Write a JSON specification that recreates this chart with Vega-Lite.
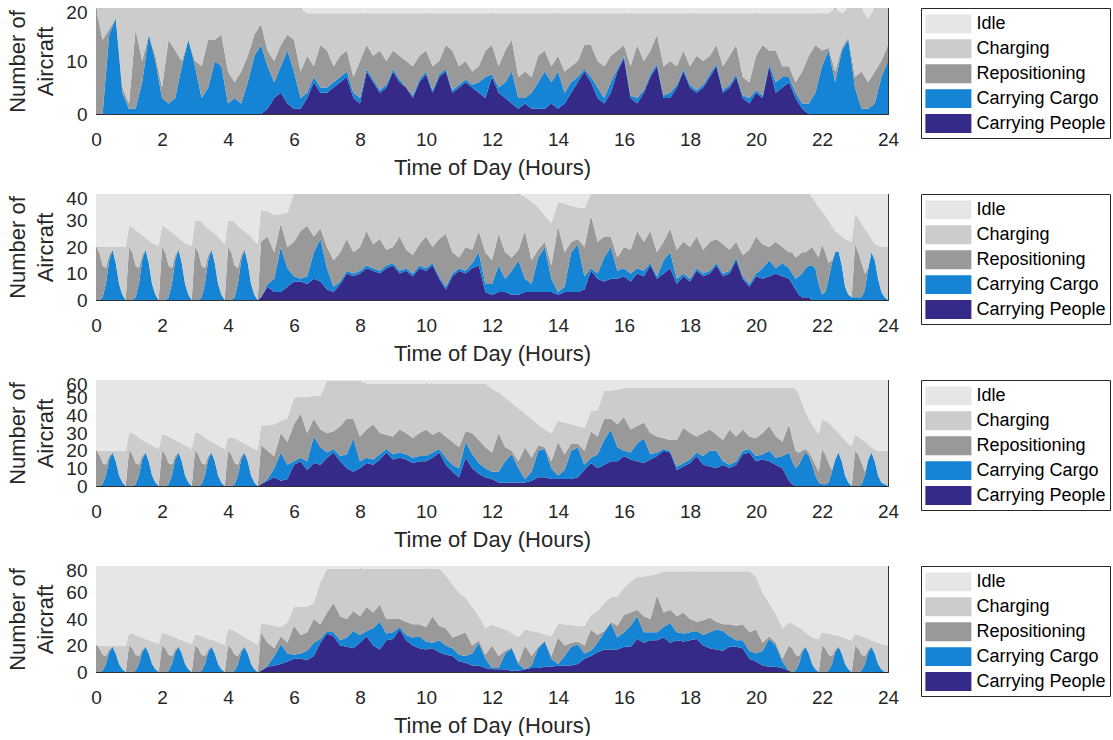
{
"$schema": "https://vega.github.io/schema/vega-lite/v6.json",
"autosize": {"type": "pad"},
"padding": {"left": 6, "top": 3, "right": 0, "bottom": 0},
"background": "white",
"config": {
 "font": "Liberation Sans",
 "view": {"stroke": null},
 "axis": {"labelFont": "Liberation Sans", "labelFontSize": 19, "labelColor": "#262626", "titleFont": "Liberation Sans", "titleFontSize": 22, "titleFontWeight": "normal", "titleColor": "#262626", "tickColor": "#262626", "tickWidth": 1, "domain": true, "domainColor": "#333333", "domainWidth": 1, "zindex": 1, "grid": false, "labelFlush": false, "labelOverlap": false},
 "legend": {"orient": "right", "offset": 31.5, "padding": 4.4, "strokeColor": "#262626", "symbolType": "M-2,-0.82H2V0.82H-2Z", "symbolSize": 529, "symbolOffset": 11.5, "symbolStrokeWidth": 0, "symbolOpacity": 1, "labelFont": "Liberation Sans", "labelFontSize": 18, "labelColor": "#000000", "labelOffset": 16.5, "rowPadding": 3.9, "labelLimit": 400}
},
"bounds": "flush",
"spacing": 80,
"resolve": {"scale": {"color": "independent", "x": "independent", "y": "independent"}},
"datasets": {
"p1": [
{"t":0,"a":0,"b":0,"c":20,"d":0,"e":0},{"t":0.2,"a":0,"b":0,"c":14,"d":6,"e":0},{"t":0.4,"a":0,"b":15,"c":1,"d":4,"e":0},{"t":0.6,"a":0,"b":18,"c":0,"d":2,"e":0},{"t":0.8,"a":0,"b":4,"c":1,"d":15,"e":0},
{"t":1,"a":0,"b":1,"c":1,"d":18,"e":0},{"t":1.2,"a":0,"b":1,"c":15,"d":4,"e":0},{"t":1.4,"a":0,"b":6,"c":4,"d":10,"e":0},{"t":1.6,"a":0,"b":15,"c":0,"d":5,"e":0},{"t":1.8,"a":0,"b":10,"c":1,"d":9,"e":0},
{"t":2,"a":0,"b":3,"c":2,"d":15,"e":0},{"t":2.2,"a":0,"b":2,"c":12,"d":6,"e":0},{"t":2.4,"a":0,"b":3,"c":9,"d":8,"e":0},{"t":2.6,"a":0,"b":9,"c":1,"d":10,"e":0},{"t":2.8,"a":0,"b":14,"c":0,"d":6,"e":0},
{"t":3,"a":0,"b":9,"c":1,"d":10,"e":0},{"t":3.2,"a":0,"b":3,"c":6,"d":11,"e":0},{"t":3.4,"a":0,"b":5,"c":9,"d":6,"e":0},{"t":3.6,"a":0,"b":10,"c":4,"d":6,"e":0},{"t":3.8,"a":0,"b":9,"c":6,"d":5,"e":0},
{"t":4,"a":0,"b":2,"c":6,"d":12,"e":0},{"t":4.2,"a":0,"b":3,"c":3,"d":14,"e":0},{"t":4.4,"a":0,"b":2,"c":6,"d":12,"e":0},{"t":4.6,"a":0,"b":6,"c":5,"d":9,"e":0},{"t":4.8,"a":0,"b":11,"c":4,"d":5,"e":0},
{"t":5,"a":0,"b":13,"c":4,"d":3,"e":0},{"t":5.2,"a":1,"b":8,"c":3,"d":8,"e":0},{"t":5.4,"a":3,"b":3,"c":4,"d":10,"e":0},{"t":5.6,"a":4,"b":5,"c":4,"d":7,"e":0},{"t":5.8,"a":2,"b":10,"c":3,"d":5,"e":0},
{"t":6,"a":1,"b":7,"c":6,"d":6,"e":0},{"t":6.2,"a":1,"b":2,"c":5,"d":12,"e":0},{"t":6.4,"a":3,"b":1,"c":7,"d":8,"e":1},{"t":6.6,"a":6,"b":1,"c":2,"d":10,"e":1},{"t":6.8,"a":4,"b":1,"c":8,"d":6,"e":1},
{"t":7,"a":4,"b":1,"c":7,"d":7,"e":1},{"t":7.2,"a":5,"b":1,"c":3,"d":10,"e":1},{"t":7.4,"a":6,"b":1,"c":4,"d":8,"e":1},{"t":7.6,"a":7,"b":1,"c":4,"d":7,"e":1},{"t":7.8,"a":3,"b":1,"c":3,"d":12,"e":1},
{"t":8,"a":2,"b":1,"c":7,"d":9,"e":1},{"t":8.2,"a":8,"b":0.5,"c":4.5,"d":6,"e":1},{"t":8.4,"a":6,"b":0.5,"c":4.5,"d":8,"e":1},{"t":8.6,"a":4,"b":0.5,"c":7.5,"d":7,"e":1},{"t":8.8,"a":5,"b":0.5,"c":4.5,"d":9,"e":1},
{"t":9,"a":8,"b":0.5,"c":3.5,"d":7,"e":1},{"t":9.2,"a":6,"b":0.5,"c":4.5,"d":8,"e":1},{"t":9.4,"a":5,"b":0,"c":5,"d":9,"e":1},{"t":9.6,"a":3,"b":0.5,"c":5.5,"d":10,"e":1},{"t":9.8,"a":6,"b":0.5,"c":4.5,"d":8,"e":1},
{"t":10,"a":7.5,"b":0.5,"c":4,"d":7,"e":1},{"t":10.2,"a":4,"b":0.5,"c":4.5,"d":10,"e":1},{"t":10.4,"a":7,"b":0.5,"c":2.5,"d":9,"e":1},{"t":10.6,"a":8,"b":0.5,"c":4.5,"d":6,"e":1},{"t":10.8,"a":4,"b":0.5,"c":7.5,"d":7,"e":1},
{"t":11,"a":5,"b":0.5,"c":3.5,"d":10,"e":1},{"t":11.2,"a":6,"b":0.5,"c":3.5,"d":9,"e":1},{"t":11.4,"a":5,"b":0.5,"c":2.5,"d":11,"e":1},{"t":11.6,"a":4,"b":2,"c":3,"d":10,"e":1},{"t":11.8,"a":3,"b":4,"c":5,"d":7,"e":1},
{"t":12,"a":7,"b":0.5,"c":5.5,"d":6,"e":1},{"t":12.2,"a":4,"b":1,"c":4,"d":10,"e":1},{"t":12.4,"a":3,"b":3,"c":6,"d":7,"e":1},{"t":12.6,"a":2,"b":6,"c":6,"d":5,"e":1},{"t":12.8,"a":1,"b":2,"c":4,"d":12,"e":1},
{"t":13,"a":2,"b":1,"c":5,"d":11,"e":1},{"t":13.2,"a":1,"b":3,"c":3,"d":12,"e":1},{"t":13.4,"a":1,"b":5,"c":5,"d":8,"e":1},{"t":13.6,"a":1,"b":7,"c":4,"d":7,"e":1},{"t":13.8,"a":2,"b":4,"c":3,"d":10,"e":1},
{"t":14,"a":1,"b":7,"c":3,"d":8,"e":1},{"t":14.2,"a":2,"b":2,"c":4,"d":11,"e":1},{"t":14.4,"a":4,"b":2,"c":3,"d":10,"e":1},{"t":14.6,"a":6,"b":1,"c":3,"d":9,"e":1},{"t":14.8,"a":8,"b":0.5,"c":4.5,"d":6,"e":1},
{"t":15,"a":6,"b":1,"c":6,"d":6,"e":1},{"t":15.2,"a":3,"b":2,"c":5,"d":9,"e":1},{"t":15.4,"a":2,"b":1,"c":6,"d":10,"e":1},{"t":15.6,"a":4,"b":2,"c":5,"d":8,"e":1},{"t":15.8,"a":8,"b":0.5,"c":3.5,"d":7,"e":1},
{"t":16,"a":10.5,"b":0.5,"c":2,"d":6,"e":1},{"t":16.2,"a":3,"b":0.5,"c":5.5,"d":10,"e":1},{"t":16.4,"a":2,"b":1,"c":10,"d":6,"e":1},{"t":16.6,"a":4,"b":0.5,"c":5.5,"d":9,"e":1},{"t":16.8,"a":7,"b":0.5,"c":4.5,"d":7,"e":1},
{"t":17,"a":9,"b":0.5,"c":5.5,"d":4,"e":1},{"t":17.2,"a":3,"b":0.5,"c":5.5,"d":10,"e":1},{"t":17.4,"a":3,"b":1,"c":6,"d":9,"e":1},{"t":17.6,"a":5,"b":0.5,"c":3.5,"d":10,"e":1},{"t":17.8,"a":8,"b":0.5,"c":3.5,"d":7,"e":1},
{"t":18,"a":5,"b":0.5,"c":3.5,"d":10,"e":1},{"t":18.2,"a":4,"b":0.5,"c":6.5,"d":8,"e":1},{"t":18.4,"a":5,"b":0.5,"c":4.5,"d":9,"e":1},{"t":18.6,"a":7,"b":0.5,"c":3.5,"d":8,"e":1},{"t":18.8,"a":9,"b":0.5,"c":3.5,"d":6,"e":1},
{"t":19,"a":4,"b":0.5,"c":4.5,"d":10,"e":1},{"t":19.2,"a":5,"b":0.5,"c":5.5,"d":8,"e":1},{"t":19.4,"a":7,"b":0.5,"c":5.5,"d":6,"e":1},{"t":19.6,"a":3,"b":0.5,"c":3.5,"d":12,"e":1},{"t":19.8,"a":2,"b":1,"c":3,"d":13,"e":1},
{"t":20,"a":4,"b":0.5,"c":6.5,"d":8,"e":1},{"t":20.2,"a":3,"b":0.5,"c":9.5,"d":6,"e":1},{"t":20.4,"a":9,"b":0.5,"c":2.5,"d":7,"e":1},{"t":20.6,"a":4,"b":2,"c":6,"d":7,"e":1},{"t":20.8,"a":5,"b":2,"c":2,"d":10,"e":1},
{"t":21,"a":6,"b":1,"c":2,"d":10,"e":1},{"t":21.2,"a":3,"b":1,"c":2,"d":13,"e":1},{"t":21.4,"a":1,"b":1,"c":6,"d":11,"e":1},{"t":21.6,"a":0,"b":2,"c":9,"d":8,"e":1},{"t":21.8,"a":0,"b":4,"c":9,"d":6,"e":1},
{"t":22,"a":0,"b":9,"c":3,"d":7,"e":1},{"t":22.2,"a":0,"b":12,"c":0.5,"d":6.5,"e":1},{"t":22.4,"a":0,"b":6,"c":2,"d":12,"e":0},{"t":22.6,"a":0,"b":12,"c":0.5,"d":6.5,"e":1},{"t":22.8,"a":0,"b":14,"c":0.5,"d":5.5,"e":0},
{"t":23,"a":0,"b":5,"c":2,"d":13,"e":0},{"t":23.2,"a":0,"b":1,"c":7,"d":12,"e":0},{"t":23.4,"a":0,"b":1,"c":5,"d":12,"e":2},{"t":23.6,"a":0,"b":2,"c":6,"d":12,"e":0},{"t":23.8,"a":0,"b":7,"c":3,"d":10,"e":0},
{"t":24,"a":0,"b":10,"c":3,"d":7,"e":0}
],
"p2": [
{"t":0,"a":0,"b":0,"c":20,"d":0,"e":20},{"t":0.1,"a":0,"b":0,"c":18,"d":2,"e":20},{"t":0.2,"a":0,"b":1,"c":12,"d":7,"e":20},{"t":0.3,"a":0,"b":6,"c":6,"d":8,"e":20},{"t":0.4,"a":0,"b":15,"c":2,"d":3,"e":20},
{"t":0.5,"a":0,"b":19,"c":0,"d":1,"e":20},{"t":0.6,"a":0,"b":14,"c":0,"d":6,"e":20},{"t":0.7,"a":0,"b":6,"c":0,"d":14,"e":20},{"t":0.8,"a":0,"b":2,"c":0,"d":18,"e":20},{"t":0.9,"a":0,"b":0,"c":0,"d":20,"e":20},
{"t":1,"a":0,"b":0,"c":20,"d":8,"e":12},{"t":1.1,"a":0,"b":0,"c":18,"d":9.5,"e":12.5},{"t":1.2,"a":0,"b":1,"c":12,"d":13.5,"e":13.5},{"t":1.3,"a":0,"b":6,"c":6,"d":13.5,"e":14.5},{"t":1.4,"a":0,"b":15,"c":2,"d":7.5,"e":15.5},
{"t":1.5,"a":0,"b":19,"c":0,"d":4.5,"e":16.5},{"t":1.6,"a":0,"b":14,"c":0,"d":8.5,"e":17.5},{"t":1.7,"a":0,"b":6,"c":0,"d":15.5,"e":18.5},{"t":1.8,"a":0,"b":2,"c":0,"d":19,"e":19},{"t":1.9,"a":0,"b":0,"c":0,"d":20.5,"e":19.5},
{"t":2,"a":0,"b":0,"c":20,"d":8,"e":12},{"t":2.1,"a":0,"b":0,"c":18,"d":9.5,"e":12.5},{"t":2.2,"a":0,"b":1,"c":12,"d":13.5,"e":13.5},{"t":2.3,"a":0,"b":6,"c":6,"d":13.5,"e":14.5},{"t":2.4,"a":0,"b":15,"c":2,"d":7.5,"e":15.5},
{"t":2.5,"a":0,"b":19,"c":0,"d":4.5,"e":16.5},{"t":2.6,"a":0,"b":14,"c":0,"d":8.5,"e":17.5},{"t":2.7,"a":0,"b":6,"c":0,"d":15.5,"e":18.5},{"t":2.8,"a":0,"b":2,"c":0,"d":19,"e":19},{"t":2.9,"a":0,"b":0,"c":0,"d":20.5,"e":19.5},
{"t":3,"a":0,"b":0,"c":20,"d":10,"e":10},{"t":3.1,"a":0,"b":0,"c":18,"d":12,"e":10},{"t":3.2,"a":0,"b":1,"c":12,"d":16.5,"e":10.5},{"t":3.3,"a":0,"b":6,"c":6,"d":16,"e":12},{"t":3.4,"a":0,"b":15,"c":2,"d":10,"e":13},
{"t":3.5,"a":0,"b":19,"c":0,"d":7,"e":14},{"t":3.6,"a":0,"b":14,"c":0,"d":11,"e":15},{"t":3.7,"a":0,"b":6,"c":0,"d":18,"e":16},{"t":3.8,"a":0,"b":2,"c":0,"d":20.5,"e":17.5},{"t":3.9,"a":0,"b":0,"c":0,"d":21,"e":19},
{"t":4,"a":0,"b":0,"c":20,"d":10,"e":10},{"t":4.1,"a":0,"b":0,"c":18,"d":12,"e":10},{"t":4.2,"a":0,"b":1,"c":12,"d":16.5,"e":10.5},{"t":4.3,"a":0,"b":6,"c":6,"d":16,"e":12},{"t":4.4,"a":0,"b":15,"c":2,"d":10,"e":13},
{"t":4.5,"a":0,"b":19,"c":0,"d":7,"e":14},{"t":4.6,"a":0,"b":14,"c":0,"d":11,"e":15},{"t":4.7,"a":0,"b":6,"c":0,"d":18,"e":16},{"t":4.8,"a":0,"b":2,"c":0,"d":20.5,"e":17.5},{"t":4.9,"a":0,"b":0,"c":0,"d":21,"e":19},
{"t":5,"a":1,"b":0,"c":21,"d":12,"e":6},{"t":5.2,"a":5,"b":1,"c":18,"d":9.5,"e":6.5},{"t":5.4,"a":3,"b":5,"c":10,"d":14,"e":8},{"t":5.6,"a":3,"b":17,"c":9,"d":3.5,"e":7.5},{"t":5.8,"a":5,"b":7,"c":8,"d":13,"e":7},
{"t":6,"a":7,"b":2,"c":13,"d":18,"e":0},{"t":6.2,"a":7,"b":1,"c":18,"d":14,"e":0},{"t":6.4,"a":6,"b":3,"c":19,"d":12,"e":0},{"t":6.6,"a":8,"b":10,"c":6,"d":16,"e":0},{"t":6.8,"a":7,"b":16,"c":4,"d":13,"e":0},
{"t":7,"a":4,"b":8,"c":8,"d":20,"e":0},{"t":7.2,"a":3,"b":2,"c":10,"d":25,"e":0},{"t":7.4,"a":6,"b":1,"c":11,"d":22,"e":0},{"t":7.6,"a":10,"b":1,"c":12,"d":17,"e":0},{"t":7.8,"a":9,"b":1,"c":8,"d":22,"e":0},
{"t":8,"a":10,"b":1,"c":9,"d":20,"e":0},{"t":8.2,"a":12,"b":1,"c":13,"d":14,"e":0},{"t":8.4,"a":11,"b":1,"c":9,"d":19,"e":0},{"t":8.6,"a":10,"b":1,"c":12,"d":17,"e":0},{"t":8.8,"a":12,"b":1,"c":6,"d":21,"e":0},
{"t":9,"a":13,"b":1,"c":6,"d":20,"e":0},{"t":9.2,"a":10,"b":1,"c":13,"d":16,"e":0},{"t":9.4,"a":11,"b":1,"c":7,"d":21,"e":0},{"t":9.6,"a":9,"b":1,"c":7,"d":23,"e":0},{"t":9.8,"a":12,"b":1,"c":8,"d":19,"e":0},
{"t":10,"a":11,"b":1,"c":12,"d":16,"e":0},{"t":10.2,"a":13,"b":1,"c":6,"d":20,"e":0},{"t":10.4,"a":8,"b":1,"c":14,"d":17,"e":0},{"t":10.6,"a":4,"b":1,"c":20,"d":15,"e":0},{"t":10.8,"a":9,"b":1,"c":8,"d":22,"e":0},
{"t":11,"a":11,"b":1,"c":4,"d":24,"e":0},{"t":11.2,"a":10,"b":1,"c":9,"d":20,"e":0},{"t":11.4,"a":12,"b":2,"c":5,"d":21,"e":0},{"t":11.6,"a":13,"b":5,"c":8,"d":14,"e":0},{"t":11.8,"a":3,"b":3,"c":12,"d":22,"e":0},
{"t":12,"a":2,"b":4,"c":9,"d":25,"e":0},{"t":12.2,"a":3,"b":10,"c":12,"d":15,"e":0},{"t":12.4,"a":3,"b":5,"c":10,"d":22,"e":0},{"t":12.6,"a":2,"b":9,"c":5,"d":24,"e":0},{"t":12.8,"a":2,"b":13,"c":4,"d":21,"e":0},
{"t":13,"a":3,"b":5,"c":18,"d":13,"e":1},{"t":13.2,"a":3,"b":3,"c":9,"d":22,"e":3},{"t":13.4,"a":3,"b":13,"c":3,"d":16,"e":5},{"t":13.6,"a":3,"b":17,"c":2,"d":10,"e":8},{"t":13.8,"a":3,"b":5,"c":5,"d":16,"e":11},
{"t":14,"a":2,"b":1,"c":25,"d":9,"e":3},{"t":14.2,"a":3,"b":2,"c":13,"d":18.5,"e":3.5},{"t":14.4,"a":3,"b":15,"c":4,"d":13.5,"e":4.5},{"t":14.6,"a":3,"b":18,"c":2,"d":12,"e":5},{"t":14.8,"a":4,"b":5,"c":11,"d":14.5,"e":5.5},
{"t":15,"a":11,"b":1,"c":20,"d":8,"e":0},{"t":15.2,"a":8,"b":2,"c":12,"d":18,"e":0},{"t":15.4,"a":7,"b":9,"c":8,"d":16,"e":0},{"t":15.6,"a":8,"b":12,"c":4,"d":16,"e":0},{"t":15.8,"a":8,"b":3,"c":5,"d":24,"e":0},
{"t":16,"a":9,"b":3,"c":8,"d":20,"e":0},{"t":16.2,"a":7,"b":3,"c":9,"d":21,"e":0},{"t":16.4,"a":10,"b":2,"c":14,"d":14,"e":0},{"t":16.6,"a":9,"b":2,"c":11,"d":18,"e":0},{"t":16.8,"a":13,"b":1,"c":12,"d":14,"e":0},
{"t":17,"a":8,"b":1,"c":9,"d":22,"e":0},{"t":17.2,"a":10,"b":5,"c":7,"d":18,"e":0},{"t":17.4,"a":12,"b":6,"c":9,"d":13,"e":0},{"t":17.6,"a":6,"b":2,"c":11,"d":21,"e":0},{"t":17.8,"a":9,"b":1,"c":12,"d":18,"e":0},
{"t":18,"a":7,"b":1,"c":12,"d":20,"e":0},{"t":18.2,"a":11,"b":1,"c":12,"d":16,"e":0},{"t":18.4,"a":9,"b":1,"c":9,"d":21,"e":0},{"t":18.6,"a":10,"b":1,"c":11,"d":18,"e":0},{"t":18.8,"a":13,"b":1,"c":9,"d":17,"e":0},
{"t":19,"a":9,"b":1,"c":11,"d":19,"e":0},{"t":19.2,"a":10,"b":1,"c":8,"d":21,"e":0},{"t":19.4,"a":15,"b":1,"c":6,"d":18,"e":0},{"t":19.6,"a":8,"b":1,"c":8,"d":23,"e":0},{"t":19.8,"a":5,"b":1,"c":13,"d":21,"e":0},
{"t":20,"a":9,"b":1,"c":14,"d":16,"e":0},{"t":20.2,"a":8,"b":4,"c":9,"d":19,"e":0},{"t":20.4,"a":9,"b":6,"c":5,"d":20,"e":0},{"t":20.6,"a":10,"b":2,"c":10,"d":18,"e":0},{"t":20.8,"a":9,"b":5,"c":6,"d":20,"e":0},
{"t":21,"a":8,"b":4,"c":6,"d":22,"e":0},{"t":21.1,"a":6,"b":4,"c":8,"d":22,"e":0},{"t":21.2,"a":4,"b":4,"c":8,"d":24,"e":0},{"t":21.3,"a":2,"b":7,"c":8,"d":23,"e":0},{"t":21.4,"a":1,"b":9,"c":8,"d":22,"e":0},
{"t":21.5,"a":1,"b":11,"c":6,"d":22,"e":0},{"t":21.6,"a":1,"b":12,"c":6,"d":21,"e":0},{"t":21.7,"a":0,"b":13,"c":7,"d":19,"e":1},{"t":21.8,"a":0,"b":12,"c":6,"d":19,"e":3},{"t":21.9,"a":0,"b":6,"c":10,"d":19,"e":5},
{"t":22,"a":0,"b":2,"c":19,"d":12.5,"e":6.5},{"t":22.1,"a":0,"b":3,"c":15,"d":14,"e":8},{"t":22.2,"a":0,"b":8,"c":6,"d":16,"e":10},{"t":22.3,"a":0,"b":14,"c":1,"d":13,"e":12},{"t":22.4,"a":0,"b":18,"c":0,"d":8,"e":14},
{"t":22.5,"a":0,"b":18.5,"c":0,"d":6.5,"e":15},{"t":22.6,"a":0,"b":13,"c":0,"d":11,"e":16},{"t":22.7,"a":0,"b":5,"c":0,"d":18,"e":17},{"t":22.8,"a":0,"b":2,"c":0,"d":20.5,"e":17.5},{"t":22.9,"a":0,"b":1,"c":0,"d":21,"e":18},
{"t":23,"a":0,"b":1,"c":20,"d":11.5,"e":7.5},{"t":23.1,"a":0,"b":1,"c":17,"d":13,"e":9},{"t":23.2,"a":0,"b":1,"c":13,"d":15,"e":11},{"t":23.3,"a":0,"b":4,"c":6,"d":17,"e":13},{"t":23.4,"a":0,"b":12,"c":0,"d":13,"e":15},
{"t":23.5,"a":0,"b":18,"c":0,"d":5,"e":17},{"t":23.6,"a":0,"b":15,"c":0,"d":6,"e":19},{"t":23.7,"a":0,"b":8,"c":0,"d":12.5,"e":19.5},{"t":23.8,"a":0,"b":3,"c":0,"d":17,"e":20},{"t":23.9,"a":0,"b":1,"c":0,"d":19,"e":20},
{"t":24,"a":0,"b":0,"c":0,"d":20,"e":20}
],
"p3": [
{"t":0,"a":0,"b":0,"c":20,"d":0,"e":40},{"t":0.1,"a":0,"b":0,"c":18,"d":2,"e":40},{"t":0.2,"a":0,"b":1,"c":12,"d":7,"e":40},{"t":0.3,"a":0,"b":6,"c":6,"d":8,"e":40},{"t":0.4,"a":0,"b":15,"c":2,"d":3,"e":40},
{"t":0.5,"a":0,"b":19,"c":0,"d":1,"e":40},{"t":0.6,"a":0,"b":14,"c":0,"d":6,"e":40},{"t":0.7,"a":0,"b":6,"c":0,"d":14,"e":40},{"t":0.8,"a":0,"b":2,"c":0,"d":18,"e":40},{"t":0.9,"a":0,"b":0,"c":0,"d":20,"e":40},
{"t":1,"a":0,"b":0,"c":20,"d":10,"e":30},{"t":1.1,"a":0,"b":0,"c":18,"d":12,"e":30},{"t":1.2,"a":0,"b":1,"c":12,"d":16,"e":31},{"t":1.3,"a":0,"b":6,"c":6,"d":15.5,"e":32.5},{"t":1.4,"a":0,"b":15,"c":2,"d":9,"e":34},
{"t":1.5,"a":0,"b":19,"c":0,"d":6,"e":35},{"t":1.6,"a":0,"b":14,"c":0,"d":10,"e":36},{"t":1.7,"a":0,"b":6,"c":0,"d":17,"e":37},{"t":1.8,"a":0,"b":2,"c":0,"d":20,"e":38},{"t":1.9,"a":0,"b":0,"c":0,"d":21,"e":39},
{"t":2,"a":0,"b":0,"c":20,"d":9,"e":31},{"t":2.1,"a":0,"b":0,"c":18,"d":11,"e":31},{"t":2.2,"a":0,"b":1,"c":12,"d":15,"e":32},{"t":2.3,"a":0,"b":6,"c":6,"d":15,"e":33},{"t":2.4,"a":0,"b":15,"c":2,"d":9,"e":34},
{"t":2.5,"a":0,"b":19,"c":0,"d":6,"e":35},{"t":2.6,"a":0,"b":14,"c":0,"d":10,"e":36},{"t":2.7,"a":0,"b":6,"c":0,"d":17,"e":37},{"t":2.8,"a":0,"b":2,"c":0,"d":20,"e":38},{"t":2.9,"a":0,"b":0,"c":0,"d":21,"e":39},
{"t":3,"a":0,"b":0,"c":20,"d":10,"e":30},{"t":3.1,"a":0,"b":0,"c":18,"d":12,"e":30},{"t":3.2,"a":0,"b":1,"c":12,"d":16,"e":31},{"t":3.3,"a":0,"b":6,"c":6,"d":15.5,"e":32.5},{"t":3.4,"a":0,"b":15,"c":2,"d":9,"e":34},
{"t":3.5,"a":0,"b":19,"c":0,"d":6,"e":35},{"t":3.6,"a":0,"b":14,"c":0,"d":10,"e":36},{"t":3.7,"a":0,"b":6,"c":0,"d":17,"e":37},{"t":3.8,"a":0,"b":2,"c":0,"d":20,"e":38},{"t":3.9,"a":0,"b":0,"c":0,"d":21,"e":39},
{"t":4,"a":0,"b":0,"c":20,"d":7.5,"e":32.5},{"t":4.1,"a":0,"b":0,"c":18,"d":9.5,"e":32.5},{"t":4.2,"a":0,"b":1,"c":12,"d":14,"e":33},{"t":4.3,"a":0,"b":6,"c":6,"d":14,"e":34},{"t":4.4,"a":0,"b":15,"c":2,"d":8,"e":35},
{"t":4.5,"a":0,"b":19,"c":0,"d":5,"e":36},{"t":4.6,"a":0,"b":14,"c":0,"d":9,"e":37},{"t":4.7,"a":0,"b":6,"c":0,"d":16,"e":38},{"t":4.8,"a":0,"b":2,"c":0,"d":19,"e":39},{"t":4.9,"a":0,"b":0,"c":0,"d":20.5,"e":39.5},
{"t":5,"a":1,"b":0,"c":22,"d":11,"e":26},{"t":5.2,"a":3,"b":1,"c":16,"d":14.5,"e":25.5},{"t":5.4,"a":5,"b":5,"c":7,"d":18,"e":25},{"t":5.6,"a":3,"b":16,"c":11,"d":7,"e":23},{"t":5.8,"a":4,"b":8,"c":13,"d":13.5,"e":21.5},
{"t":6,"a":12,"b":2,"c":21,"d":15,"e":10},{"t":6.2,"a":14,"b":2,"c":25,"d":9.5,"e":9.5},{"t":6.4,"a":9,"b":5,"c":16,"d":20.5,"e":9.5},{"t":6.6,"a":13,"b":15,"c":10,"d":13,"e":9},{"t":6.8,"a":12,"b":10,"c":10,"d":19,"e":9},
{"t":7,"a":16,"b":3,"c":11,"d":29.5,"e":0.5},{"t":7.2,"a":19,"b":2,"c":10,"d":28.5,"e":0.5},{"t":7.4,"a":14,"b":3,"c":17,"d":25.5,"e":0.5},{"t":7.6,"a":10,"b":8,"c":20,"d":21.5,"e":0.5},{"t":7.8,"a":8,"b":19,"c":11,"d":21.5,"e":0.5},
{"t":8,"a":10,"b":4,"c":14,"d":31.5,"e":0.5},{"t":8.2,"a":13,"b":3,"c":16,"d":26,"e":2},{"t":8.4,"a":12,"b":3,"c":20,"d":23,"e":2},{"t":8.6,"a":15,"b":3,"c":12,"d":28,"e":2},{"t":8.8,"a":19,"b":2,"c":8,"d":29,"e":2},
{"t":9,"a":15,"b":3,"c":10,"d":30,"e":2},{"t":9.2,"a":16,"b":3,"c":13,"d":26,"e":2},{"t":9.4,"a":15,"b":3,"c":12,"d":28,"e":2},{"t":9.6,"a":13,"b":3,"c":11,"d":31,"e":2},{"t":9.8,"a":14,"b":3,"c":13,"d":28,"e":2},
{"t":10,"a":14,"b":3,"c":15,"d":26,"e":2},{"t":10.2,"a":16,"b":3,"c":10,"d":29,"e":2},{"t":10.4,"a":19,"b":2,"c":10,"d":27,"e":2},{"t":10.6,"a":12,"b":4,"c":12,"d":30,"e":2},{"t":10.8,"a":8,"b":4,"c":13,"d":33,"e":2},
{"t":11,"a":5,"b":5,"c":12,"d":36,"e":2},{"t":11.2,"a":16,"b":9,"c":6,"d":27,"e":2},{"t":11.4,"a":10,"b":8,"c":12,"d":28,"e":2},{"t":11.6,"a":7,"b":6,"c":13,"d":32,"e":2},{"t":11.8,"a":5,"b":5,"c":12,"d":36,"e":2},
{"t":12,"a":4,"b":4,"c":11,"d":36,"e":5},{"t":12.2,"a":2,"b":6,"c":22,"d":23,"e":7},{"t":12.4,"a":2,"b":12,"c":8,"d":28,"e":10},{"t":12.6,"a":2,"b":16,"c":2,"d":27,"e":13},{"t":12.8,"a":2,"b":8,"c":4,"d":30,"e":16},
{"t":13,"a":2,"b":2,"c":18,"d":19,"e":19},{"t":13.2,"a":3,"b":5,"c":8,"d":22,"e":22},{"t":13.4,"a":5,"b":15,"c":3,"d":12,"e":25},{"t":13.6,"a":5,"b":16,"c":1,"d":10,"e":28},{"t":13.8,"a":4,"b":6,"c":4,"d":16,"e":30},
{"t":14,"a":4,"b":2,"c":19,"d":12,"e":23},{"t":14.2,"a":4,"b":5,"c":9,"d":18,"e":24},{"t":14.4,"a":4,"b":16,"c":4,"d":11,"e":25},{"t":14.6,"a":5,"b":17,"c":2,"d":10,"e":26},{"t":14.8,"a":9,"b":3,"c":8,"d":13,"e":27},
{"t":15,"a":13,"b":3,"c":15,"d":11.5,"e":17.5},{"t":15.2,"a":10,"b":8,"c":10,"d":15,"e":17},{"t":15.4,"a":12,"b":14,"c":12,"d":16,"e":6},{"t":15.6,"a":14,"b":18,"c":6,"d":16,"e":6},{"t":15.8,"a":14,"b":8,"c":13,"d":19.5,"e":5.5},
{"t":16,"a":17,"b":3,"c":19,"d":16.5,"e":4.5},{"t":16.2,"a":15,"b":4,"c":13,"d":23.5,"e":4.5},{"t":16.4,"a":14,"b":10,"c":10,"d":21.5,"e":4.5},{"t":16.6,"a":13,"b":14,"c":9,"d":19.5,"e":4.5},{"t":16.8,"a":15,"b":3,"c":12,"d":25.5,"e":4.5},
{"t":17,"a":17,"b":2,"c":9,"d":27.5,"e":4.5},{"t":17.2,"a":20,"b":1,"c":6,"d":28.5,"e":4.5},{"t":17.4,"a":19,"b":1,"c":6,"d":29.5,"e":4.5},{"t":17.6,"a":9,"b":2,"c":15,"d":29.5,"e":4.5},{"t":17.8,"a":11,"b":2,"c":20,"d":22.5,"e":4.5},
{"t":18,"a":13,"b":2,"c":15,"d":25.5,"e":4.5},{"t":18.2,"a":17,"b":2,"c":9,"d":27.5,"e":4.5},{"t":18.4,"a":12,"b":5,"c":13,"d":25.5,"e":4.5},{"t":18.6,"a":11,"b":9,"c":12,"d":23.5,"e":4.5},{"t":18.8,"a":10,"b":10,"c":9,"d":26.5,"e":4.5},
{"t":19,"a":12,"b":2,"c":12,"d":29.5,"e":4.5},{"t":19.2,"a":10,"b":2,"c":20,"d":23.5,"e":4.5},{"t":19.4,"a":12,"b":2,"c":14,"d":27.5,"e":4.5},{"t":19.6,"a":18,"b":2,"c":12,"d":23.5,"e":4.5},{"t":19.8,"a":19,"b":2,"c":7,"d":27.5,"e":4.5},
{"t":20,"a":14,"b":3,"c":10,"d":28.5,"e":4.5},{"t":20.2,"a":15,"b":3,"c":12,"d":25.5,"e":4.5},{"t":20.4,"a":14,"b":6,"c":14,"d":21.5,"e":4.5},{"t":20.6,"a":12,"b":4,"c":12,"d":27.5,"e":4.5},{"t":20.8,"a":10,"b":7,"c":8,"d":30.5,"e":4.5},
{"t":21,"a":3,"b":16,"c":16,"d":20.5,"e":4.5},{"t":21.1,"a":1,"b":13,"c":13,"d":28.5,"e":4.5},{"t":21.2,"a":0,"b":10,"c":10,"d":35,"e":5},{"t":21.3,"a":0,"b":12,"c":7,"d":33,"e":8},{"t":21.4,"a":0,"b":16,"c":4,"d":27,"e":13},
{"t":21.5,"a":0,"b":19,"c":2,"d":21,"e":18},{"t":21.6,"a":0,"b":17,"c":2,"d":19,"e":22},{"t":21.7,"a":0,"b":12,"c":4,"d":19,"e":25},{"t":21.8,"a":0,"b":6,"c":6,"d":20,"e":28},{"t":21.9,"a":0,"b":2,"c":6,"d":21.5,"e":30.5},
{"t":22,"a":0,"b":1,"c":20,"d":16.5,"e":22.5},{"t":22.1,"a":0,"b":1,"c":17,"d":19,"e":23},{"t":22.2,"a":0,"b":2,"c":11,"d":23,"e":24},{"t":22.3,"a":0,"b":8,"c":1,"d":25,"e":26},{"t":22.4,"a":0,"b":15,"c":0,"d":17,"e":28},
{"t":22.5,"a":0,"b":19,"c":0,"d":11,"e":30},{"t":22.6,"a":0,"b":14,"c":0,"d":14,"e":32},{"t":22.7,"a":0,"b":6,"c":0,"d":20,"e":34},{"t":22.8,"a":0,"b":2,"c":0,"d":22,"e":36},{"t":22.9,"a":0,"b":0,"c":0,"d":22.5,"e":37.5},
{"t":23,"a":0,"b":0,"c":20,"d":9,"e":31},{"t":23.1,"a":0,"b":0,"c":18,"d":10,"e":32},{"t":23.2,"a":0,"b":1,"c":12,"d":13.5,"e":33.5},{"t":23.3,"a":0,"b":6,"c":2,"d":17,"e":35},{"t":23.4,"a":0,"b":15,"c":0,"d":8.5,"e":36.5},
{"t":23.5,"a":0,"b":19,"c":0,"d":3,"e":38},{"t":23.6,"a":0,"b":14,"c":0,"d":6.5,"e":39.5},{"t":23.7,"a":0,"b":6,"c":0,"d":14,"e":40},{"t":23.8,"a":0,"b":2,"c":0,"d":18,"e":40},{"t":23.9,"a":0,"b":1,"c":0,"d":19,"e":40},
{"t":24,"a":0,"b":0,"c":0,"d":20,"e":40}
],
"p4": [
{"t":0,"a":0,"b":0,"c":20,"d":0,"e":60},{"t":0.1,"a":0,"b":0,"c":18,"d":2,"e":60},{"t":0.2,"a":0,"b":1,"c":12,"d":7,"e":60},{"t":0.3,"a":0,"b":6,"c":6,"d":8,"e":60},{"t":0.4,"a":0,"b":15,"c":2,"d":3,"e":60},
{"t":0.5,"a":0,"b":19,"c":0,"d":1,"e":60},{"t":0.6,"a":0,"b":14,"c":0,"d":6,"e":60},{"t":0.7,"a":0,"b":6,"c":0,"d":14,"e":60},{"t":0.8,"a":0,"b":2,"c":0,"d":18,"e":60},{"t":0.9,"a":0,"b":0,"c":0,"d":20,"e":60},
{"t":1,"a":0,"b":0,"c":20,"d":9.5,"e":50.5},{"t":1.1,"a":0,"b":0,"c":18,"d":11,"e":51},{"t":1.2,"a":0,"b":1,"c":12,"d":15,"e":52},{"t":1.3,"a":0,"b":6,"c":6,"d":15,"e":53},{"t":1.4,"a":0,"b":15,"c":2,"d":9,"e":54},
{"t":1.5,"a":0,"b":19,"c":0,"d":6,"e":55},{"t":1.6,"a":0,"b":14,"c":0,"d":10,"e":56},{"t":1.7,"a":0,"b":6,"c":0,"d":17,"e":57},{"t":1.8,"a":0,"b":2,"c":0,"d":20,"e":58},{"t":1.9,"a":0,"b":0,"c":0,"d":21,"e":59},
{"t":2,"a":0,"b":0,"c":20,"d":9.5,"e":50.5},{"t":2.1,"a":0,"b":0,"c":18,"d":11,"e":51},{"t":2.2,"a":0,"b":1,"c":12,"d":15,"e":52},{"t":2.3,"a":0,"b":6,"c":6,"d":15,"e":53},{"t":2.4,"a":0,"b":15,"c":2,"d":9,"e":54},
{"t":2.5,"a":0,"b":19,"c":0,"d":6,"e":55},{"t":2.6,"a":0,"b":14,"c":0,"d":10,"e":56},{"t":2.7,"a":0,"b":6,"c":0,"d":17,"e":57},{"t":2.8,"a":0,"b":2,"c":0,"d":20,"e":58},{"t":2.9,"a":0,"b":0,"c":0,"d":21,"e":59},
{"t":3,"a":0,"b":0,"c":20,"d":8.5,"e":51.5},{"t":3.1,"a":0,"b":0,"c":18,"d":10,"e":52},{"t":3.2,"a":0,"b":1,"c":12,"d":14,"e":53},{"t":3.3,"a":0,"b":6,"c":6,"d":14,"e":54},{"t":3.4,"a":0,"b":15,"c":2,"d":8,"e":55},
{"t":3.5,"a":0,"b":19,"c":0,"d":5.5,"e":55.5},{"t":3.6,"a":0,"b":14,"c":0,"d":9.5,"e":56.5},{"t":3.7,"a":0,"b":6,"c":0,"d":16.5,"e":57.5},{"t":3.8,"a":0,"b":2,"c":0,"d":19.5,"e":58.5},{"t":3.9,"a":0,"b":0,"c":0,"d":20.5,"e":59.5},
{"t":4,"a":0,"b":0,"c":20,"d":12.5,"e":47.5},{"t":4.1,"a":0,"b":0,"c":18,"d":14,"e":48},{"t":4.2,"a":0,"b":1,"c":12,"d":18,"e":49},{"t":4.3,"a":0,"b":6,"c":6,"d":17.5,"e":50.5},{"t":4.4,"a":0,"b":15,"c":2,"d":11,"e":52},
{"t":4.5,"a":0,"b":19,"c":0,"d":7.5,"e":53.5},{"t":4.6,"a":0,"b":14,"c":0,"d":11,"e":55},{"t":4.7,"a":0,"b":6,"c":0,"d":17.5,"e":56.5},{"t":4.8,"a":0,"b":2,"c":0,"d":20,"e":58},{"t":4.9,"a":0,"b":0,"c":0,"d":20.5,"e":59.5},
{"t":5,"a":1,"b":0,"c":29,"d":6.5,"e":43.5},{"t":5.2,"a":4,"b":1,"c":17,"d":14,"e":44},{"t":5.4,"a":5,"b":7,"c":6,"d":17,"e":45},{"t":5.6,"a":6,"b":15,"c":6,"d":7,"e":46},{"t":5.8,"a":8,"b":6,"c":8,"d":15.5,"e":42.5},
{"t":6,"a":10,"b":3,"c":22,"d":14,"e":31},{"t":6.2,"a":10,"b":4,"c":14,"d":21,"e":31},{"t":6.4,"a":9,"b":7,"c":14,"d":19.5,"e":30.5},{"t":6.6,"a":12,"b":10,"c":18,"d":12,"e":28},{"t":6.8,"a":22,"b":3,"c":11,"d":32,"e":12},
{"t":7,"a":29,"b":2,"c":14,"d":33,"e":2},{"t":7.2,"a":27,"b":3,"c":22,"d":26,"e":2},{"t":7.4,"a":20,"b":4,"c":18,"d":36,"e":2},{"t":7.6,"a":19,"b":7,"c":14,"d":38,"e":2},{"t":7.8,"a":18,"b":13,"c":15,"d":32,"e":2},
{"t":8,"a":22,"b":6,"c":14,"d":36,"e":2},{"t":8.2,"a":27,"b":4,"c":18,"d":29,"e":2},{"t":8.4,"a":20,"b":13,"c":12,"d":33,"e":2},{"t":8.6,"a":17,"b":21,"c":13,"d":27,"e":2},{"t":8.8,"a":24,"b":5,"c":11,"d":38,"e":2},
{"t":9,"a":25,"b":5,"c":10,"d":38,"e":2},{"t":9.2,"a":32,"b":2,"c":6,"d":38,"e":2},{"t":9.4,"a":24,"b":4,"c":10,"d":40,"e":2},{"t":9.6,"a":20,"b":6,"c":10,"d":42,"e":2},{"t":9.8,"a":18,"b":9,"c":9,"d":42,"e":2},
{"t":10,"a":17,"b":6,"c":11,"d":44,"e":2},{"t":10.2,"a":18,"b":4,"c":20,"d":36,"e":2},{"t":10.4,"a":15,"b":9,"c":11,"d":43,"e":2},{"t":10.6,"a":13,"b":7,"c":13,"d":40,"e":7},{"t":10.8,"a":12,"b":6,"c":8,"d":40,"e":14},
{"t":11,"a":8,"b":5,"c":15,"d":32,"e":20},{"t":11.2,"a":7,"b":5,"c":18,"d":26,"e":24},{"t":11.4,"a":5,"b":9,"c":6,"d":29,"e":31},{"t":11.6,"a":5,"b":17,"c":2,"d":18,"e":38},{"t":11.8,"a":3,"b":7,"c":3,"d":20,"e":47},
{"t":12,"a":2,"b":1,"c":17,"d":16,"e":44},{"t":12.2,"a":2,"b":1,"c":9,"d":22,"e":46},{"t":12.4,"a":2,"b":12,"c":2,"d":16,"e":48},{"t":12.6,"a":1,"b":17,"c":0.5,"d":11,"e":50.5},{"t":12.8,"a":1,"b":5,"c":1,"d":19.5,"e":53.5},
{"t":13,"a":2,"b":0,"c":18,"d":12,"e":48},{"t":13.2,"a":3,"b":2,"c":7,"d":19,"e":49},{"t":13.4,"a":3,"b":15,"c":1,"d":11,"e":50},{"t":13.6,"a":4,"b":19,"c":0.5,"d":5,"e":51.5},{"t":13.8,"a":4,"b":6,"c":2,"d":15,"e":53},
{"t":14,"a":5,"b":1,"c":20,"d":10.5,"e":43.5},{"t":14.2,"a":5,"b":7,"c":8,"d":16,"e":44},{"t":14.4,"a":5,"b":14,"c":3,"d":13.5,"e":44.5},{"t":14.6,"a":6,"b":15,"c":2,"d":12,"e":45},{"t":14.8,"a":10,"b":4,"c":6,"d":14.5,"e":45.5},
{"t":15,"a":12,"b":4,"c":16,"d":11,"e":37},{"t":15.2,"a":15,"b":7,"c":6,"d":18,"e":34},{"t":15.4,"a":17,"b":13,"c":1,"d":21,"e":28},{"t":15.6,"a":17,"b":20,"c":1,"d":18.5,"e":23.5},{"t":15.8,"a":17,"b":9,"c":9,"d":22,"e":23},
{"t":16,"a":19,"b":11,"c":13,"d":21,"e":16},{"t":16.2,"a":19,"b":16,"c":10,"d":23,"e":12},{"t":16.4,"a":25,"b":17,"c":5,"d":25,"e":8},{"t":16.6,"a":22,"b":8,"c":12,"d":30,"e":8},{"t":16.8,"a":24,"b":6,"c":10,"d":33,"e":7},
{"t":17,"a":24,"b":6,"c":28,"d":16,"e":6},{"t":17.2,"a":26,"b":8,"c":11,"d":31,"e":4},{"t":17.4,"a":22,"b":15,"c":10,"d":29,"e":4},{"t":17.6,"a":24,"b":6,"c":12,"d":34,"e":4},{"t":17.8,"a":23,"b":6,"c":16,"d":31,"e":4},
{"t":18,"a":24,"b":6,"c":10,"d":36,"e":4},{"t":18.2,"a":25,"b":6,"c":7,"d":38,"e":4},{"t":18.4,"a":20,"b":8,"c":11,"d":37,"e":4},{"t":18.6,"a":18,"b":12,"c":11,"d":35,"e":4},{"t":18.8,"a":17,"b":15,"c":6,"d":38,"e":4},
{"t":19,"a":16,"b":15,"c":5,"d":40,"e":4},{"t":19.2,"a":19,"b":8,"c":9,"d":40,"e":4},{"t":19.4,"a":19,"b":5,"c":11,"d":41,"e":4},{"t":19.6,"a":18,"b":6,"c":12,"d":40,"e":4},{"t":19.8,"a":10,"b":6,"c":14,"d":46,"e":4},
{"t":20,"a":8,"b":6,"c":18,"d":40,"e":8},{"t":20.2,"a":5,"b":11,"c":6,"d":38,"e":20},{"t":20.4,"a":4,"b":21,"c":2,"d":25,"e":28},{"t":20.6,"a":4,"b":16,"c":2,"d":22,"e":36},{"t":20.8,"a":3,"b":5,"c":2,"d":23,"e":47},
{"t":21,"a":1,"b":0,"c":19,"d":17.5,"e":42.5},{"t":21.1,"a":0,"b":0,"c":18,"d":18.5,"e":43.5},{"t":21.2,"a":0,"b":1,"c":12,"d":22,"e":45},{"t":21.3,"a":0,"b":6,"c":6,"d":21.5,"e":46.5},{"t":21.4,"a":0,"b":15,"c":2,"d":15,"e":48},
{"t":21.5,"a":0,"b":19,"c":0,"d":11,"e":50},{"t":21.6,"a":0,"b":14,"c":0,"d":14,"e":52},{"t":21.7,"a":0,"b":6,"c":0,"d":20.5,"e":53.5},{"t":21.8,"a":0,"b":2,"c":0,"d":23,"e":55},{"t":21.9,"a":0,"b":0,"c":0,"d":25,"e":55},
{"t":22,"a":0,"b":0,"c":20,"d":10,"e":50},{"t":22.1,"a":0,"b":0,"c":18,"d":11.5,"e":50.5},{"t":22.2,"a":0,"b":1,"c":12,"d":16,"e":51},{"t":22.3,"a":0,"b":6,"c":6,"d":16.5,"e":51.5},{"t":22.4,"a":0,"b":15,"c":2,"d":11,"e":52},
{"t":22.5,"a":0,"b":19,"c":0,"d":8.5,"e":52.5},{"t":22.6,"a":0,"b":14,"c":0,"d":12.5,"e":53.5},{"t":22.7,"a":0,"b":6,"c":0,"d":19.5,"e":54.5},{"t":22.8,"a":0,"b":2,"c":0,"d":22.5,"e":55.5},{"t":22.9,"a":0,"b":0,"c":0,"d":24,"e":56},
{"t":23,"a":0,"b":0,"c":20,"d":9,"e":51},{"t":23.1,"a":0,"b":0,"c":18,"d":10,"e":52},{"t":23.2,"a":0,"b":1,"c":12,"d":14,"e":53},{"t":23.3,"a":0,"b":6,"c":6,"d":14,"e":54},{"t":23.4,"a":0,"b":15,"c":2,"d":8,"e":55},
{"t":23.5,"a":0,"b":19,"c":0,"d":5,"e":56},{"t":23.6,"a":0,"b":14,"c":0,"d":9,"e":57},{"t":23.7,"a":0,"b":6,"c":0,"d":16,"e":58},{"t":23.8,"a":0,"b":2,"c":0,"d":19,"e":59},{"t":23.9,"a":0,"b":0,"c":0,"d":20.5,"e":59.5},
{"t":24,"a":0,"b":0,"c":0,"d":20,"e":60}
]
},
"vconcat": [
{
 "width": 792, "height": 106,
 "data": {"name": "p1"},
 "transform": [{"fold": ["a","b","c","d","e"], "as": ["k","v"]}],
 "layer": [
  {"mark": {"type": "area", "opacity": 1},
   "encoding": {
    "x": {"field": "t", "type": "quantitative", "scale": {"domain": [0,24], "nice": false, "zero": false}, "axis": {"orient": "bottom", "values": [0,2,4,6,8,10,12,14,16,18,20,22,24], "tickSize": -6, "labelPadding": 22, "title": "Time of Day (Hours)", "titlePadding": 8}},
    "y": {"field": "v", "type": "quantitative", "stack": "zero", "scale": {"domain": [0,20], "nice": false}, "axis": {"orient": "left", "values": [0,10,20], "tickSize": -6, "labelPadding": 15, "title": ["Number of","Aircraft"], "titlePadding": 8, "titleLineHeight": 28, "labelOffset": {"condition": {"test": "datum.value == 20", "value": 4.5}, "value": 0}}},
    "color": {"field": "k", "type": "nominal", "scale": {"domain": ["e","d","c","b","a"], "range": ["#e6e6e6","#cccccc","#999999","#1584d4","#352a87"]}, "legend": {"title": null, "labelExpr": "datum.label == 'e' ? 'Idle' : datum.label == 'd' ? 'Charging' : datum.label == 'c' ? 'Repositioning' : datum.label == 'b' ? 'Carrying Cargo' : 'Carrying People'"}},
    "order": {"field": "k", "type": "ordinal", "sort": "ascending"}
   }},
  {"mark": {"type": "point", "opacity": 0},
   "encoding": {
    "x": {"field": "t", "type": "quantitative", "scale": {"domain": [0,24], "nice": false, "zero": false}, "axis": {"orient": "top", "values": [0,2,4,6,8,10,12,14,16,18,20,22,24], "labels": false, "tickSize": -6, "title": null}},
    "y": {"field": "v", "type": "quantitative", "scale": {"domain": [0,20], "nice": false}, "axis": {"orient": "right", "values": [0,10,20], "labels": false, "tickSize": -6, "title": null}}
   }}
 ],
 "resolve": {"axis": {"x": "independent", "y": "independent"}}
},
{
 "width": 792, "height": 106,
 "data": {"name": "p2"},
 "transform": [{"fold": ["a","b","c","d","e"], "as": ["k","v"]}],
 "layer": [
  {"mark": {"type": "area", "opacity": 1},
   "encoding": {
    "x": {"field": "t", "type": "quantitative", "scale": {"domain": [0,24], "nice": false, "zero": false}, "axis": {"orient": "bottom", "values": [0,2,4,6,8,10,12,14,16,18,20,22,24], "tickSize": -6, "labelPadding": 22, "title": "Time of Day (Hours)", "titlePadding": 8}},
    "y": {"field": "v", "type": "quantitative", "stack": "zero", "scale": {"domain": [0,40], "nice": false}, "axis": {"orient": "left", "values": [0,10,20,30,40], "tickSize": -6, "labelPadding": 15, "title": ["Number of","Aircraft"], "titlePadding": 8, "titleLineHeight": 28, "labelOffset": {"condition": {"test": "datum.value == 40", "value": 4.5}, "value": 0}}},
    "color": {"field": "k", "type": "nominal", "scale": {"domain": ["e","d","c","b","a"], "range": ["#e6e6e6","#cccccc","#999999","#1584d4","#352a87"]}, "legend": {"title": null, "labelExpr": "datum.label == 'e' ? 'Idle' : datum.label == 'd' ? 'Charging' : datum.label == 'c' ? 'Repositioning' : datum.label == 'b' ? 'Carrying Cargo' : 'Carrying People'"}},
    "order": {"field": "k", "type": "ordinal", "sort": "ascending"}
   }},
  {"mark": {"type": "point", "opacity": 0},
   "encoding": {
    "x": {"field": "t", "type": "quantitative", "scale": {"domain": [0,24], "nice": false, "zero": false}, "axis": {"orient": "top", "values": [0,2,4,6,8,10,12,14,16,18,20,22,24], "labels": false, "tickSize": -6, "title": null}},
    "y": {"field": "v", "type": "quantitative", "scale": {"domain": [0,40], "nice": false}, "axis": {"orient": "right", "values": [0,10,20,30,40], "labels": false, "tickSize": -6, "title": null}}
   }}
 ],
 "resolve": {"axis": {"x": "independent", "y": "independent"}}
},
{
 "width": 792, "height": 106,
 "data": {"name": "p3"},
 "transform": [{"fold": ["a","b","c","d","e"], "as": ["k","v"]}],
 "layer": [
  {"mark": {"type": "area", "opacity": 1},
   "encoding": {
    "x": {"field": "t", "type": "quantitative", "scale": {"domain": [0,24], "nice": false, "zero": false}, "axis": {"orient": "bottom", "values": [0,2,4,6,8,10,12,14,16,18,20,22,24], "tickSize": -6, "labelPadding": 22, "title": "Time of Day (Hours)", "titlePadding": 8}},
    "y": {"field": "v", "type": "quantitative", "stack": "zero", "scale": {"domain": [0,60], "nice": false}, "axis": {"orient": "left", "values": [0,10,20,30,40,50,60], "tickSize": -6, "labelPadding": 15, "title": ["Number of","Aircraft"], "titlePadding": 8, "titleLineHeight": 28, "labelOffset": {"condition": {"test": "datum.value == 60", "value": 4.5}, "value": 0}}},
    "color": {"field": "k", "type": "nominal", "scale": {"domain": ["e","d","c","b","a"], "range": ["#e6e6e6","#cccccc","#999999","#1584d4","#352a87"]}, "legend": {"title": null, "labelExpr": "datum.label == 'e' ? 'Idle' : datum.label == 'd' ? 'Charging' : datum.label == 'c' ? 'Repositioning' : datum.label == 'b' ? 'Carrying Cargo' : 'Carrying People'"}},
    "order": {"field": "k", "type": "ordinal", "sort": "ascending"}
   }},
  {"mark": {"type": "point", "opacity": 0},
   "encoding": {
    "x": {"field": "t", "type": "quantitative", "scale": {"domain": [0,24], "nice": false, "zero": false}, "axis": {"orient": "top", "values": [0,2,4,6,8,10,12,14,16,18,20,22,24], "labels": false, "tickSize": -6, "title": null}},
    "y": {"field": "v", "type": "quantitative", "scale": {"domain": [0,60], "nice": false}, "axis": {"orient": "right", "values": [0,10,20,30,40,50,60], "labels": false, "tickSize": -6, "title": null}}
   }}
 ],
 "resolve": {"axis": {"x": "independent", "y": "independent"}}
},
{
 "width": 792, "height": 106,
 "data": {"name": "p4"},
 "transform": [{"fold": ["a","b","c","d","e"], "as": ["k","v"]}],
 "layer": [
  {"mark": {"type": "area", "opacity": 1},
   "encoding": {
    "x": {"field": "t", "type": "quantitative", "scale": {"domain": [0,24], "nice": false, "zero": false}, "axis": {"orient": "bottom", "values": [0,2,4,6,8,10,12,14,16,18,20,22,24], "tickSize": -6, "labelPadding": 22, "title": "Time of Day (Hours)", "titlePadding": 8}},
    "y": {"field": "v", "type": "quantitative", "stack": "zero", "scale": {"domain": [0,80], "nice": false}, "axis": {"orient": "left", "values": [0,20,40,60,80], "tickSize": -6, "labelPadding": 15, "title": ["Number of","Aircraft"], "titlePadding": 8, "titleLineHeight": 28, "labelOffset": {"condition": {"test": "datum.value == 80", "value": 4.5}, "value": 0}}},
    "color": {"field": "k", "type": "nominal", "scale": {"domain": ["e","d","c","b","a"], "range": ["#e6e6e6","#cccccc","#999999","#1584d4","#352a87"]}, "legend": {"title": null, "labelExpr": "datum.label == 'e' ? 'Idle' : datum.label == 'd' ? 'Charging' : datum.label == 'c' ? 'Repositioning' : datum.label == 'b' ? 'Carrying Cargo' : 'Carrying People'"}},
    "order": {"field": "k", "type": "ordinal", "sort": "ascending"}
   }},
  {"mark": {"type": "point", "opacity": 0},
   "encoding": {
    "x": {"field": "t", "type": "quantitative", "scale": {"domain": [0,24], "nice": false, "zero": false}, "axis": {"orient": "top", "values": [0,2,4,6,8,10,12,14,16,18,20,22,24], "labels": false, "tickSize": -6, "title": null}},
    "y": {"field": "v", "type": "quantitative", "scale": {"domain": [0,80], "nice": false}, "axis": {"orient": "right", "values": [0,20,40,60,80], "labels": false, "tickSize": -6, "title": null}}
   }}
 ],
 "resolve": {"axis": {"x": "independent", "y": "independent"}}
}
]
}
